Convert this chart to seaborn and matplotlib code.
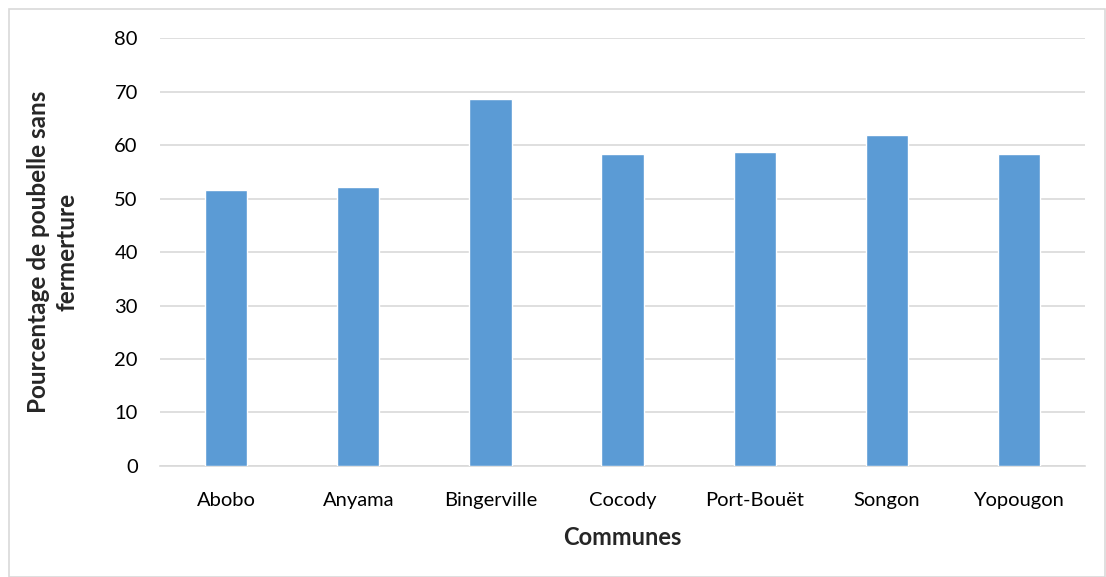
import matplotlib
matplotlib.use("Agg")
import matplotlib.pyplot as plt
import seaborn as sns
import pandas as pd
from matplotlib.patches import Rectangle

communes = ["Abobo", "Anyama", "Bingerville", "Cocody", "Port-Bouët", "Songon", "Yopougon"]
pourcentages = [51.6, 52.2, 68.6, 58.3, 58.7, 61.9, 58.3]
y_ticks = [0, 10, 20, 30, 40, 50, 60, 70, 80]

df = pd.DataFrame({"Communes": communes, "Pourcentage": pourcentages})

sns.set_theme(style="white")
plt.rcParams["font.family"] = ["Lato", "DejaVu Sans"]

fig = plt.figure(figsize=(11.06, 5.77), dpi=100)
ax = fig.add_axes([0.1447, 0.1924, 0.8363, 0.7416])

sns.barplot(data=df, x="Communes", y="Pourcentage", color="#5B9BD5",
            width=0.32, saturation=1, ax=ax, zorder=3)

ax.set_ylim(0, 80)
ax.set_yticks(y_ticks)
ax.set_xlim(-0.5, len(communes) - 0.5)
ax.grid(axis="y", color="#D9D9D9", linewidth=1.2, zorder=0)
ax.set_axisbelow(True)
for s in ["top", "right", "left"]:
    ax.spines[s].set_visible(False)
ax.spines["bottom"].set_color("#D9D9D9")
ax.spines["bottom"].set_linewidth(1.2)
ax.tick_params(axis="both", length=0, labelsize=14.5, colors="#000000")
ax.tick_params(axis="y", pad=16)
ax.tick_params(axis="x", pad=19)

ax.set_xlabel("Communes", fontsize=17, fontweight="bold", labelpad=12)
ax.set_ylabel("Pourcentage de poubelle sans\nfermerture", fontsize=17.5,
              fontweight="bold", labelpad=26, linespacing=1.25)

fig.patches.append(Rectangle((0.008, 0.0), 0.991, 0.985, transform=fig.transFigure,
                             fill=False, edgecolor="#D9D9D9", linewidth=1.2))

fig.savefig("out.png", dpi=100)
